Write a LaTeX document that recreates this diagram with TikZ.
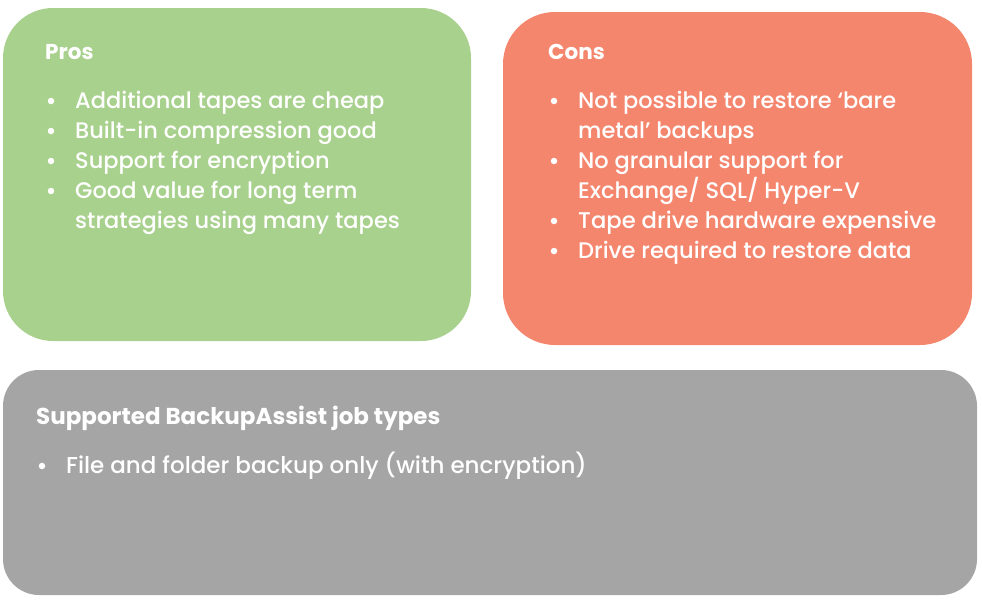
\documentclass[tikz,border=0pt]{standalone}
\usepackage{fontspec}
\setmainfont{Poppins}[UprightFont=* Medium, BoldFont=* Bold]
\definecolor{prosgreen}{HTML}{A9D18E}
\definecolor{conred}{HTML}{F5866E}
\definecolor{suppgray}{HTML}{A5A5A5}
\tikzset{
  head/.style={anchor=base west, inner sep=0pt, text=white, font=\fontsize{21.5}{21.5}\selectfont\bfseries},
  item/.style={anchor=base west, inner sep=0pt, text=white, font=\fontsize{22.5}{22.5}\selectfont},
  dot/.style={circle, fill=white, minimum size=6.5pt, inner sep=0pt}
}
\begin{document}
\begin{tikzpicture}[x=1pt,y=-1pt]
\useasboundingbox (0,0) rectangle (982,605);
% panels
\fill[prosgreen, rounded corners=50pt] (3,8) rectangle (471,341);
\fill[conred, rounded corners=52pt] (503,12) rectangle (972,345);
\fill[suppgray, rounded corners=36pt] (3,370) rectangle (977,595);
% Pros
\node[head] (ph) at (45,59) {Pros};
\foreach \y/\t [count=\i] in {108/Additional tapes are cheap, 138/Built-in compression good, 168/Support for encryption, 198/Good value for long term}{
  \node[dot] (pd\i) at (51,\y-7) {};
  \node[item] (pt\i) at (75,\y) {\t};
}
\node[item] (pt5) at (75,228) {strategies using many tapes};
% Cons
\node[head] (ch) at (548,59) {Cons};
\node[dot] (cd1) at (554,101) {};
\node[item] (ct1) at (578,108) {Not possible to restore ‘bare};
\node[item] (ct1b) at (578,138) {metal’ backups};
\node[dot] (cd2) at (554,161) {};
\node[item] (ct2) at (578,168) {No granular support for};
\node[item] (ct2b) at (578,198) {Exchange/ SQL/ Hyper-V};
\node[dot] (cd3) at (554,221) {};
\node[item, font=\fontsize{22.7}{22.7}\selectfont] (ct3) at (578,228) {Tape drive hardware expensive};
\node[dot] (cd4) at (554,251) {};
\node[item] (ct4) at (578,258) {Drive required to restore data};
% Supported
\node[head, font=\fontsize{23}{23}\selectfont\bfseries] (sh) at (36,424) {Supported BackupAssist job types};
\node[dot] (sd1) at (42,466) {};
\node[item, font=\fontsize{23}{23}\selectfont] (st1) at (66,473) {File and folder backup only (with encryption)};
\end{tikzpicture}
\end{document}
